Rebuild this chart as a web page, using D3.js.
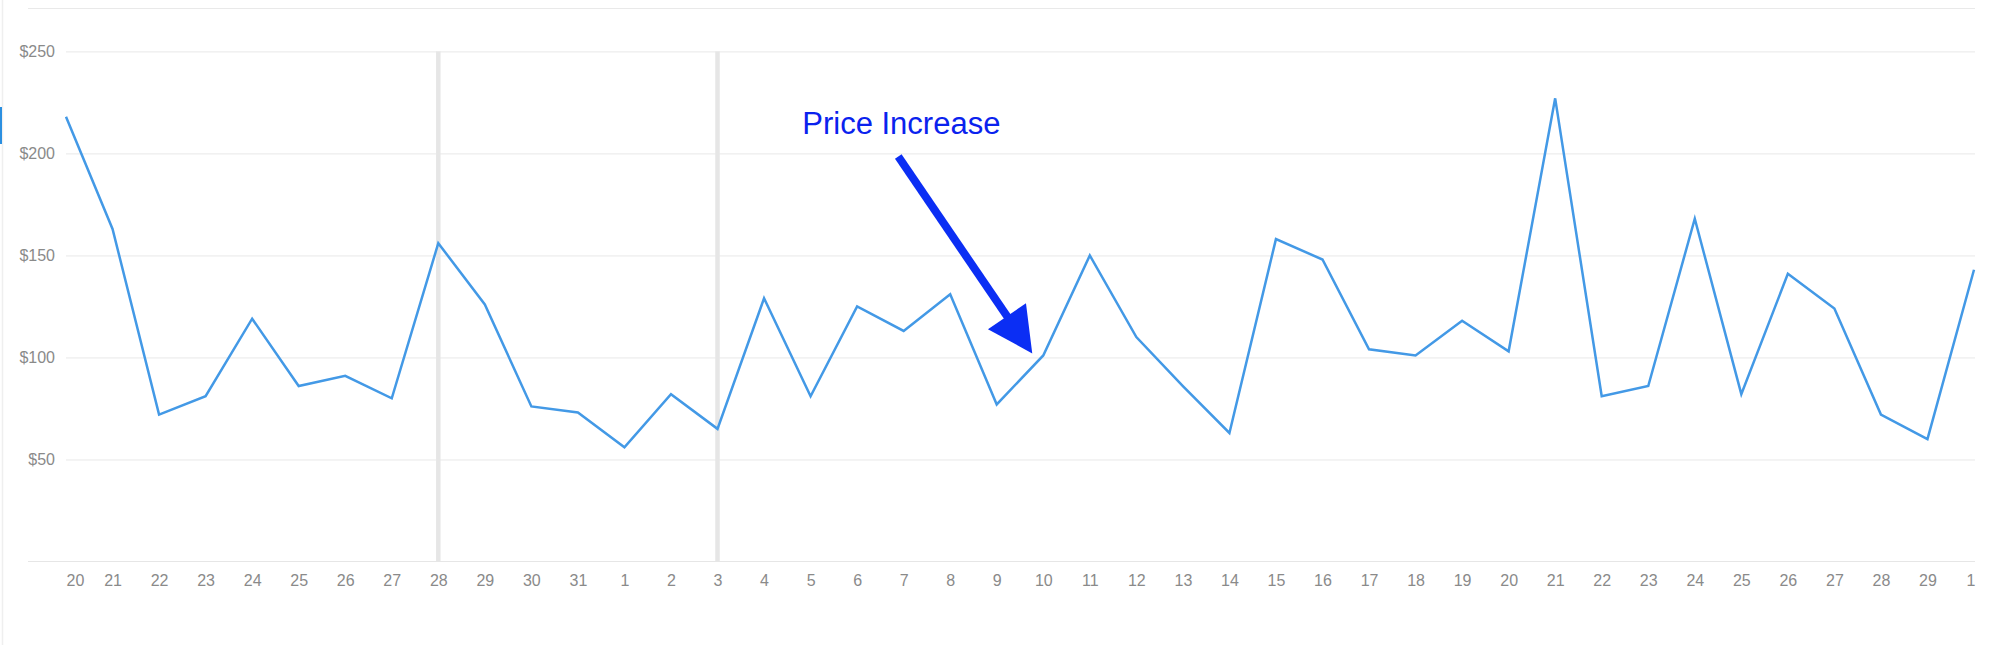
<!DOCTYPE html>
<html>
<head>
<meta charset="utf-8">
<script src="https://cdn.jsdelivr.net/npm/d3@7"></script>
<style>
  html, body { margin: 0; padding: 0; background: #fff; }
  svg { display: block; font-family: "Liberation Sans", Arial, Helvetica, sans-serif; }
</style>
</head>
<body>
<div id="chart"></div>
<script>
// days: Jan 20 .. Feb 29 .. Mar 1
const dayLabels = [
  "20","21","22","23","24","25","26","27","28","29","30","31",
  "1","2","3","4","5","6","7","8","9","10","11","12","13","14","15","16",
  "17","18","19","20","21","22","23","24","25","26","27","28","29","1"
];
const prices = [
  218,163,72,81,119,86,91,80,156,126,76,73,
  56,82,65,129,81,125,113,131,77,101,150,110,86,63,158,148,
  104,101,118,103,227,81,86,168,82,141,124,72,60,143
];
const yTicks = [50, 100, 150, 200, 250];
const markedDays = [8, 14];          // indices with grey marker bars (Jan 28, Feb 3)
const annotation = { index: 21, text: "Price Increase" };

const width = 2000, height = 645;
const plotLeft = 66, plotRight = 1975, plotTop = 51.4, plotBottom = 561.5;

const svg = d3.select("#chart").append("svg")
  .attr("width", width)
  .attr("height", height);

const x = d3.scalePoint()
  .domain(d3.range(prices.length))
  .range([plotLeft, plotRight - 1]);

const y = d3.scaleLinear()
  .domain([0, 250])
  .range([plotBottom, plotTop]);

// container border + small blue marker on the left
svg.append("line")
  .attr("x1", 2.5).attr("x2", 2.5)
  .attr("y1", 0).attr("y2", height)
  .attr("stroke", "#efefef").attr("stroke-width", 1.5);
svg.append("rect")
  .attr("x", 0).attr("y", 107)
  .attr("width", 2).attr("height", 37)
  .attr("fill", "#2b8fe0");

// top rule
svg.append("line")
  .attr("x1", 28).attr("x2", plotRight)
  .attr("y1", 8.5).attr("y2", 8.5)
  .attr("stroke", "#e9e9e9");

// y axis with gridlines
const yAxis = svg.append("g")
  .attr("transform", `translate(${plotLeft},0)`)
  .call(d3.axisLeft(y)
    .tickValues(yTicks)
    .tickFormat(d => "$" + d)
    .tickSize(-(plotRight - plotLeft))
    .tickPadding(11));
yAxis.select(".domain").remove();
yAxis.selectAll(".tick line").attr("stroke", "#e8e8e8");
yAxis.selectAll(".tick text")
  .attr("fill", "#8a8a8a")
  .style("font-size", "16px")
  .style("font-family", "\"Liberation Sans\", Arial, sans-serif");

// baseline
svg.append("line")
  .attr("x1", 28).attr("x2", plotRight)
  .attr("y1", y(0)).attr("y2", y(0))
  .attr("stroke", "#e6e6e6");

// grey marker bars
svg.append("g")
  .selectAll("rect")
  .data(markedDays)
  .join("rect")
  .attr("x", d => x(d) - 2.25)
  .attr("y", y(250))
  .attr("width", 4.5)
  .attr("height", y(0) - y(250))
  .attr("fill", "#e6e6e6");

// x axis
const xAxis = svg.append("g")
  .attr("transform", `translate(0,${y(0)})`)
  .call(d3.axisBottom(x)
    .tickFormat(i => dayLabels[i])
    .tickSize(0)
    .tickPadding(13.5));
xAxis.select(".domain").remove();
xAxis.selectAll(".tick text")
  .attr("fill", "#8a8a8a")
  .style("font-size", "16px")
  .style("font-family", "\"Liberation Sans\", Arial, sans-serif");
xAxis.selectAll(".tick text")
  .filter((d, i) => i === 0)
  .attr("text-anchor", "start");
xAxis.selectAll(".tick text")
  .filter((d, i) => i === prices.length - 1)
  .attr("text-anchor", "end")
  .attr("x", 1);

// price line
const line = d3.line()
  .x((d, i) => x(i))
  .y(d => y(d));

svg.append("path")
  .datum(prices)
  .attr("fill", "none")
  .attr("stroke", "#4399e6")
  .attr("stroke-width", 2.5)
  .attr("stroke-linejoin", "miter")
  .attr("d", line);

// annotation: text + arrow pointing at the price point
const ax = x(annotation.index), ay = y(prices[annotation.index]);
const tip = [ax - 11, ay - 2];
const tail = [tip[0] - 134, tip[1] - 197];
const len = Math.hypot(tip[0] - tail[0], tip[1] - tail[1]);
const ux = (tip[0] - tail[0]) / len, uy = (tip[1] - tail[1]) / len;
const headLen = 45, headHalf = 23;
const base = [tip[0] - ux * headLen, tip[1] - uy * headLen];
const arrowBlue = "#0b2ef4";

svg.append("line")
  .attr("x1", tail[0]).attr("y1", tail[1])
  .attr("x2", base[0] + ux * 2).attr("y2", base[1] + uy * 2)
  .attr("stroke", arrowBlue)
  .attr("stroke-width", 8);

svg.append("polygon")
  .attr("points", [
    tip,
    [base[0] - uy * headHalf, base[1] + ux * headHalf],
    [base[0] + uy * headHalf, base[1] - ux * headHalf]
  ].map(p => p.join(",")).join(" "))
  .attr("fill", arrowBlue);

svg.append("text")
  .attr("x", tail[0] - 96)
  .attr("y", tail[1] - 22)
  .attr("fill", "#0a22ee")
  .style("font-size", "31px")
  .style("font-family", "\"Liberation Sans\", Arial, sans-serif")
  .text(annotation.text);
</script>
</body>
</html>
